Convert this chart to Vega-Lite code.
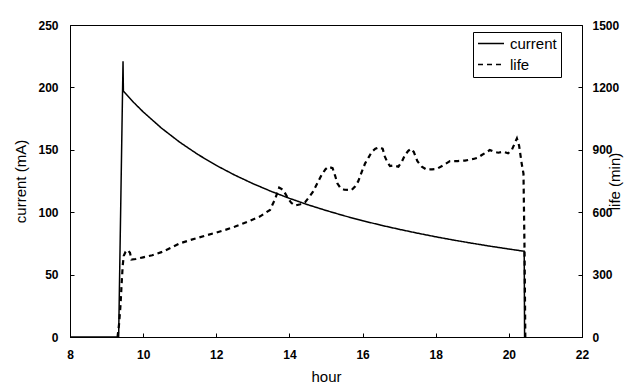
{
  "$schema": "https://vega.github.io/schema/vega-lite/v6.json",
  "width": 512,
  "height": 312,
  "autosize": {"type": "none"},
  "padding": {"left": 70, "top": 25, "right": 59, "bottom": 54},
  "background": "white",
  "config": {
    "view": {"stroke": "black", "strokeWidth": 1},
    "font": "Liberation Sans",
    "axis": {
      "domainColor": "black",
      "tickColor": "black",
      "labelColor": "black",
      "titleColor": "black",
      "labelFont": "Liberation Sans",
      "labelFontWeight": "bold",
      "labelFontSize": 12,
      "titleFont": "Liberation Sans",
      "titleFontWeight": "normal",
      "titleFontSize": 15,
      "grid": false,
      "tickSize": -4,
      "labelPadding": 16
    }
  },
  "datasets": {
    "current": [
      {"hour": 8, "current": 0},
      {"hour": 9.33, "current": 0},
      {"hour": 9.45, "current": 221},
      {"hour": 9.46, "current": 197},
      {"hour": 9.75, "current": 187.7},
      {"hour": 10, "current": 180.4},
      {"hour": 10.5, "current": 167.4},
      {"hour": 11, "current": 156.1},
      {"hour": 11.5, "current": 146.2},
      {"hour": 12, "current": 137.5},
      {"hour": 12.5, "current": 129.8},
      {"hour": 13, "current": 122.9},
      {"hour": 13.5, "current": 116.7},
      {"hour": 14, "current": 111.1},
      {"hour": 14.5, "current": 106.0},
      {"hour": 15, "current": 101.4},
      {"hour": 15.5, "current": 97.1},
      {"hour": 16, "current": 93.2},
      {"hour": 16.5, "current": 89.6},
      {"hour": 17, "current": 86.3},
      {"hour": 17.5, "current": 83.2},
      {"hour": 18, "current": 80.3},
      {"hour": 18.5, "current": 77.6},
      {"hour": 19, "current": 75.1},
      {"hour": 19.5, "current": 72.7},
      {"hour": 20, "current": 70.5},
      {"hour": 20.42, "current": 68.7},
      {"hour": 20.43, "current": 0}
    ],
    "life": [
      {"hour": 9.30, "life": 0},
      {"hour": 9.34, "life": 60},
      {"hour": 9.38, "life": 150},
      {"hour": 9.41, "life": 250},
      {"hour": 9.44, "life": 340},
      {"hour": 9.47, "life": 390},
      {"hour": 9.52, "life": 410},
      {"hour": 9.58, "life": 418},
      {"hour": 9.64, "life": 405},
      {"hour": 9.68, "life": 372},
      {"hour": 9.8, "life": 375},
      {"hour": 10.0, "life": 383},
      {"hour": 10.25, "life": 393},
      {"hour": 10.5, "life": 408},
      {"hour": 10.75, "life": 428},
      {"hour": 11.0, "life": 450},
      {"hour": 11.25, "life": 464},
      {"hour": 11.5, "life": 477},
      {"hour": 11.75, "life": 490},
      {"hour": 12.0, "life": 502},
      {"hour": 12.25, "life": 515},
      {"hour": 12.5, "life": 530},
      {"hour": 12.75, "life": 547},
      {"hour": 12.92, "life": 559},
      {"hour": 13.2, "life": 580},
      {"hour": 13.47, "life": 611},
      {"hour": 13.6, "life": 660},
      {"hour": 13.72, "life": 718},
      {"hour": 13.83, "life": 707},
      {"hour": 13.95, "life": 670},
      {"hour": 14.05, "life": 645},
      {"hour": 14.15, "life": 632},
      {"hour": 14.3, "life": 638},
      {"hour": 14.43, "life": 648},
      {"hour": 14.55, "life": 675},
      {"hour": 14.65, "life": 700},
      {"hour": 14.78, "life": 745},
      {"hour": 14.88, "life": 779},
      {"hour": 14.98, "life": 805},
      {"hour": 15.06, "life": 818},
      {"hour": 15.18, "life": 812},
      {"hour": 15.25, "life": 775},
      {"hour": 15.31, "life": 739},
      {"hour": 15.4, "life": 715},
      {"hour": 15.5, "life": 708},
      {"hour": 15.7, "life": 707},
      {"hour": 15.8, "life": 725},
      {"hour": 15.88, "life": 748},
      {"hour": 15.98, "life": 795},
      {"hour": 16.07, "life": 835},
      {"hour": 16.17, "life": 865},
      {"hour": 16.25, "life": 890},
      {"hour": 16.35, "life": 905},
      {"hour": 16.45, "life": 912},
      {"hour": 16.55, "life": 905},
      {"hour": 16.61, "life": 867},
      {"hour": 16.68, "life": 840},
      {"hour": 16.75, "life": 822},
      {"hour": 16.85, "life": 825},
      {"hour": 16.98, "life": 819},
      {"hour": 17.08, "life": 845},
      {"hour": 17.16, "life": 875},
      {"hour": 17.25, "life": 895},
      {"hour": 17.32, "life": 905},
      {"hour": 17.4, "life": 890},
      {"hour": 17.5, "life": 845},
      {"hour": 17.62, "life": 819},
      {"hour": 17.75, "life": 805},
      {"hour": 17.9, "life": 806},
      {"hour": 18.03, "life": 808},
      {"hour": 18.2, "life": 825},
      {"hour": 18.39, "life": 846},
      {"hour": 18.6, "life": 846},
      {"hour": 18.8, "life": 848},
      {"hour": 19.03, "life": 856},
      {"hour": 19.15, "life": 862},
      {"hour": 19.26, "life": 875},
      {"hour": 19.4, "life": 890},
      {"hour": 19.48, "life": 899},
      {"hour": 19.6, "life": 890},
      {"hour": 19.71, "life": 886},
      {"hour": 19.85, "life": 891},
      {"hour": 19.98, "life": 883},
      {"hour": 20.08, "life": 899},
      {"hour": 20.17, "life": 935},
      {"hour": 20.22, "life": 955},
      {"hour": 20.28, "life": 920},
      {"hour": 20.35, "life": 835},
      {"hour": 20.40, "life": 785},
      {"hour": 20.43, "life": 400},
      {"hour": 20.45, "life": 0}
    ]
  },
  "layer": [
    {
      "data": {"name": "current"},
      "mark": {"type": "line", "color": "black", "strokeWidth": 1.5, "clip": true},
      "encoding": {
        "x": {
          "field": "hour", "type": "quantitative",
          "scale": {"domain": [8, 22], "nice": false, "zero": false},
          "axis": {"values": [8, 10, 12, 14, 16, 18, 20, 22], "title": "hour", "titlePadding": 9, "labelFlush": false}
        },
        "y": {
          "field": "current", "type": "quantitative",
          "scale": {"domain": [0, 250], "nice": false},
          "axis": {"values": [0, 50, 100, 150, 200, 250], "title": "current (mA)", "titlePadding": 9, "orient": "left"}
        },
        "strokeDash": {
          "datum": "current",
          "scale": {"domain": ["current", "life"], "range": [[1, 0], [5, 4]]},
          "legend": {
            "title": null,
            "orient": "none",
            "legendX": 403,
            "legendY": 7,
            "strokeColor": "black",
            "fillColor": "white",
            "padding": 4,
            "symbolType": "M-1,0H3",
            "symbolSize": 169,
            "symbolStrokeWidth": 1.5,
            "symbolStrokeColor": "black",
            "labelFont": "Liberation Sans",
            "labelFontSize": 15,
            "labelColor": "black",
            "rowPadding": 5,
            "labelOffset": 18
          }
        }
      }
    },
    {
      "data": {"name": "life"},
      "mark": {"type": "line", "color": "black", "strokeWidth": 2.2, "clip": true},
      "encoding": {
        "x": {"field": "hour", "type": "quantitative"},
        "y": {
          "field": "life", "type": "quantitative",
          "scale": {"domain": [0, 1500], "nice": false},
          "axis": {"values": [0, 300, 600, 900, 1200, 1500], "format": "d", "title": "life (min)", "orient": "right", "titleAngle": 270, "titlePadding": 4, "labelPadding": 14}
        },
        "strokeDash": {"datum": "life"}
      }
    }
  ],
  "resolve": {"scale": {"y": "independent"}}
}
